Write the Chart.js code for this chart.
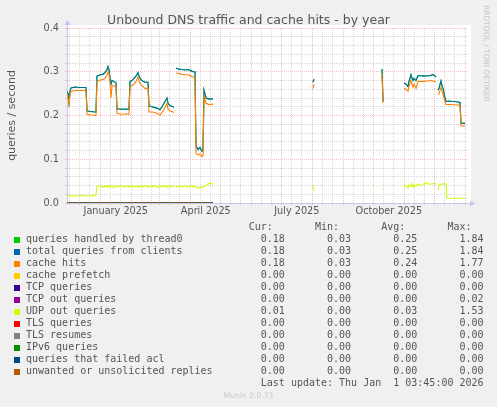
<!DOCTYPE html>
<html>
<head>
<meta charset="utf-8">
<title>Unbound DNS traffic and cache hits - by year</title>
<script src="https://cdn.jsdelivr.net/npm/chart.js@4.4.1/dist/chart.umd.min.js"></script>
<style>
  body { margin: 0; background: #f0f0f0; }
  #wrap { position: relative; width: 497px; height: 407px; overflow: hidden; }
  #wrap canvas { position: absolute; left: 0; top: 0; }
  #legend { position: absolute; left: 26px; top: 221px; font: 10px "DejaVu Sans Mono", monospace;
            color: #555; white-space: pre; line-height: 12px; }
  .sq { position: absolute; left: 14px; width: 6px; height: 6px; }
  #rrd { position: absolute; left: 482px; top: 5px; writing-mode: vertical-rl; font: 7.5px "DejaVu Sans";
         line-height: 9px; color: #c4c4c4; }
  #munin { position: absolute; left: 0; width: 497px; top: 391px; text-align: center;
           font: 7.6px "DejaVu Sans"; line-height: 10px; color: #c8c8c8; }
</style>
</head>
<body>
<div id="wrap">
  <canvas id="chart" width="497" height="407"></canvas>
  <div id="legend"></div>
  <div id="rrd">RRDTOOL / TOBI OETIKER</div>
  <div id="munin">Munin 2.0.73</div>
</div>
<script>
// x is days from the left edge of the graph (400 days shown, one pixel per day)
const days = [
  0, 1, 2, 3, 4, 8, 12, 16, 19, 20, 24, 28, 29,
  30, 33, 36, 38, 40, 41, 42, 43, 44, 45, 47, 49,
  50, 53, 56, 59, 62,
  63, 65, 67, 69, 71, 72, 74, 76, 78, 81,
  82, 85, 88, 91, 93, 95, 97, 100, 101, 103, 106, 107,
  108,
  109, 112, 115, 118, 121, 124, 126, 128, 129, 131, 133, 135, 136, 137, 139, 141, 143, 145, 146,
  147,
  246, 247, 248,
  315, 316, 317,
  337, 339, 341, 342, 344, 345, 346, 347, 349, 351, 354, 357, 360, 363, 366, 369,
  370,
  371, 372, 374, 375, 376, 377, 378, 379, 380, 382, 385, 388, 391, 393, 394, 396, 398
];
const total = [
  .255, .250, .230, .255, .263, .265, .264, .264, .264, .210, .209, .208, .208,
  .290, .293, .294, .298, .305, .312, .305, .285, .272, .280, .278, .275,
  .215, .215, .214, .215, .214,
  .278, .280, .285, .290, .298, .290, .282, .278, .276, .276,
  .222, .220, .218, .216, .213, .220, .228, .240, .228, .222, .220, .219,
  null,
  .308, .306, .305, .304, .305, .302, .300, .300, .130, .122, .127, .118, .120, .258, .240, .238, .238, .238, .238,
  null,
  .276, .283, null,
  .306, .232, null,
  .274, .272, .266, .278, .293, .285, .280, .285, .280, .291, .291, .290, .291, .291, .294, .288,
  null,
  .258, .262, .279, .268, .262, .252, .240, .232, .232, .233, .232, .232, .231, .230, .183, .182, .182
];
// thread0 carries the same values as total queries in the picture
const thread0 = total.slice();
const cacheHits = [
  .248, .240, .225, .246, .255, .257, .257, .257, .257, .203, .201, .200, .200,
  .278, .281, .282, .285, .292, .300, .295, .275, .240, .268, .268, .265,
  .205, .203, .203, .204, .203,
  .265, .268, .272, .278, .288, .280, .270, .266, .262, .262,
  .208, .208, .207, .204, .201, .207, .214, .228, .215, .210, .208, .207,
  null,
  .297, .296, .294, .293, .293, .290, .288, .286, .113, .110, .112, .106, .108, .246, .228, .226, .225, .226, .225,
  null,
  .262, .272, null,
  .297, .229, null,
  .262, .260, .255, .266, .281, .270, .265, .272, .262, .278, .278, .278, .279, .280, .279, .277,
  null,
  .248, .250, .265, .255, .248, .240, .232, .225, .225, .225, .225, .224, .224, .223, .176, .176, .176
];
const udpOut = [
  .017, .017, .016, .017, .016, .016, .016, .017, .016, .016, .016, .018, .020,
  .038, .040, .036, .039, .037, .040, .036, .039, .037, .039, .035, .039,
  .037, .040, .036, .039, .037,
  .040, .036, .039, .037, .040, .036, .039, .037, .040, .036,
  .039, .037, .040, .036, .039, .037, .040, .036, .039, .037, .039, .038,
  null,
  .036, .039, .037, .040, .036, .039, .037, .039, .036, .034, .037, .035, .036, .038, .040, .043, .046, .044, .043,
  null,
  .040, .028, null,
  .031, .031, null,
  .036, .040, .034, .042, .038, .044, .036, .041, .038, .043, .040, .044, .045, .043, .044, .044,
  null,
  .030, .042, .043, .044, .043, .044, .044, .043, .012, .011, .011, .011, .011, .011, .011, .011, .011
];
// the other fields sit at zero during the first stretch of data
const zeroDays = [0, 146];
const zeroVals = [0, 0];

const names = ['queries handled by thread0', 'total queries from clients', 'cache hits', 'cache prefetch',
  'TCP queries', 'TCP out queries', 'UDP out queries', 'TLS queries', 'TLS resumes', 'IPv6 queries',
  'queries that failed acl', 'unwanted or unsolicited replies'];
const colors = ['#00cc00', '#0066b3', '#ff8000', '#ffcc00', '#330099', '#990099', '#ccff00', '#ff0000',
  '#808080', '#008f00', '#00487d', '#b35a00'];
const curV = [0.18, 0.18, 0.18, 0, 0, 0, 0.01, 0, 0, 0, 0, 0];
const minV = [0.03, 0.03, 0.03, 0, 0, 0, 0, 0, 0, 0, 0, 0];
const avgV = [0.25, 0.25, 0.24, 0, 0, 0, 0.03, 0, 0, 0, 0, 0];
const maxV = [1.84, 1.84, 1.77, 0, 0, 0.02, 1.53, 0, 0, 0, 0, 0];
const lastUpdate = 'Last update: Thu Jan  1 03:45:00 2026';

// month boundaries (Dec 2024 .. Jan 2026) and the quarterly labels, days from left edge
const monthStarts = [2.8, 33.8, 64.8, 92.8, 123.8, 153.8, 184.8, 214.8, 245.8, 276.8, 306.8, 337.8, 367.8, 398.8];
const monthLabels = ['January 2025', 'April 2025', 'July 2025', 'October 2025'];
const monthLabelDays = [48.8, 138.8, 229.8, 321.8];

const RED = 'rgba(232,110,110,0.45)';
const GRAY = 'rgba(150,150,150,0.38)';
const AXIS = '#c4c8f0';

// x grid: minor lines on the 11th and 21st, red lines on the 1st, label-only ticks
let xTicks = [];
monthStarts.forEach(m => {
  xTicks.push({ v: m, col: RED, label: '' });
  if (m + 10 < 400) xTicks.push({ v: m + 10, col: GRAY, label: '' });
  if (m + 20 < 400) xTicks.push({ v: m + 20, col: GRAY, label: '' });
});
monthLabelDays.forEach((d, i) => xTicks.push({ v: d, col: 'rgba(0,0,0,0)', label: monthLabels[i] }));
xTicks.sort((a, b) => a.v - b.v);

function pts(xs, ys) {
  return xs.map((x, i) => ({ x: x, y: ys[i] }));
}
function isMajor(v) {
  return Math.abs(v * 10 - Math.round(v * 10)) < 1e-6;
}

const datasets = names.map((n, i) => {
  let data;
  if (i == 0) data = pts(days, thread0);
  else if (i == 1) data = pts(days, total);
  else if (i == 2) data = pts(days, cacheHits);
  else if (i == 6) data = pts(days, udpOut);
  else data = pts(zeroDays, zeroVals);
  return {
    label: n,
    data: data,
    // total sits exactly on thread0; slightly see-through so the green shows a bit, like the original
    borderColor: i == 1 ? 'rgba(0,102,179,0.92)' : colors[i],
    borderWidth: 1.1,
    pointRadius: 0,
    tension: 0,
    spanGaps: false,
    order: 12 - i
  };
});

const muninBits = {
  id: 'muninBits',
  beforeDraw(chart) {
    const { ctx, chartArea: a } = chart;
    ctx.save();
    ctx.fillStyle = '#fff';
    ctx.fillRect(a.left, a.top - 3, a.right - a.left + 4, a.bottom - a.top + 3);
    ctx.restore();
  },
  afterDraw(chart) {
    const { ctx, chartArea: a } = chart;
    ctx.save();
    ctx.strokeStyle = AXIS;
    ctx.fillStyle = AXIS;
    ctx.lineWidth = 1;
    ctx.beginPath();
    ctx.moveTo(a.left + 0.5, a.top);
    ctx.lineTo(a.left + 0.5, a.top - 4);
    ctx.moveTo(a.right, a.bottom + 0.5);
    ctx.lineTo(a.right + 4, a.bottom + 0.5);
    ctx.stroke();
    ctx.beginPath();
    ctx.moveTo(a.left + 0.5, a.top - 8);
    ctx.lineTo(a.left - 2.5, a.top - 3);
    ctx.lineTo(a.left + 3.5, a.top - 3);
    ctx.fill();
    ctx.beginPath();
    ctx.moveTo(a.right + 8, a.bottom + 0.5);
    ctx.lineTo(a.right + 3, a.bottom - 2.5);
    ctx.lineTo(a.right + 3, a.bottom + 3.5);
    ctx.fill();
    ctx.restore();
  }
};

const tickFont = { family: 'DejaVu Sans', size: 9.7 };

new Chart(document.getElementById('chart'), {
  type: 'line',
  data: { datasets: datasets },
  options: {
    responsive: false,
    animation: false,
    devicePixelRatio: 1,
    layout: { padding: { left: 0, right: 0, top: 0, bottom: 180 } },
    plugins: {
      legend: { display: false },
      tooltip: { enabled: false },
      title: {
        display: true,
        text: 'Unbound DNS traffic and cache hits - by year',
        color: '#555',
        font: { family: 'DejaVu Sans', size: 12.5, weight: 'normal' },
        padding: { top: 13, bottom: 0 }
      }
    },
    scales: {
      x: {
        type: 'linear',
        min: 0,
        max: 400,
        afterBuildTicks(s) { s.ticks = xTicks.map(t => ({ value: t.v })); },
        afterFit(s) { s.height = 24; },
        grid: {
          color: c => xTicks[c.index] ? xTicks[c.index].col : GRAY,
          tickColor: c => xTicks[c.index] ? xTicks[c.index].col : GRAY,
          tickLength: 2
        },
        border: { color: AXIS, dash: [1, 1] },
        ticks: {
          autoSkip: false,
          maxRotation: 0,
          padding: 1,
          color: '#555',
          font: tickFont,
          callback: (v, i) => xTicks[i] ? xTicks[i].label : ''
        }
      },
      y: {
        min: 0,
        max: 0.4,
        afterFit(s) { s.width = 67; },
        grid: {
          color: c => isMajor(c.tick.value) ? RED : GRAY,
          tickColor: c => isMajor(c.tick.value) ? RED : GRAY,
          tickLength: 2
        },
        border: { color: AXIS, dash: [1, 1] },
        ticks: {
          stepSize: 0.02,
          autoSkip: false,
          padding: 6,
          color: '#555',
          font: tickFont,
          callback: v => isMajor(v) ? v.toFixed(1) : ''
        },
        title: {
          display: true,
          text: 'queries / second',
          color: '#555',
          font: { family: 'DejaVu Sans', size: 11 },
          padding: { top: 6, bottom: 0 }
        }
      },
      yR: {
        position: 'right',
        display: true,
        afterFit(s) { s.width = 30; },
        grid: { display: false },
        border: { display: false },
        ticks: { display: false }
      }
    }
  },
  plugins: [muninBits]
});

// munin style legend: fixed-width columns
const legend = document.getElementById('legend');
let lines = [''.padEnd(37) + 'Cur:' + 'Min:'.padStart(11) + 'Avg:'.padStart(11) + 'Max:'.padStart(11)];
names.forEach((n, i) => {
  lines.push(n.padEnd(37) + curV[i].toFixed(2).padStart(6) + minV[i].toFixed(2).padStart(11) +
    avgV[i].toFixed(2).padStart(11) + maxV[i].toFixed(2).padStart(11));
  const sq = document.createElement('div');
  sq.className = 'sq';
  sq.style.top = (236.5 + 12 * i) + 'px';
  sq.style.background = colors[i];
  document.getElementById('wrap').appendChild(sq);
});
lines.push(lastUpdate.padStart(76));
legend.textContent = lines.join('\n');
</script>
</body>
</html>
